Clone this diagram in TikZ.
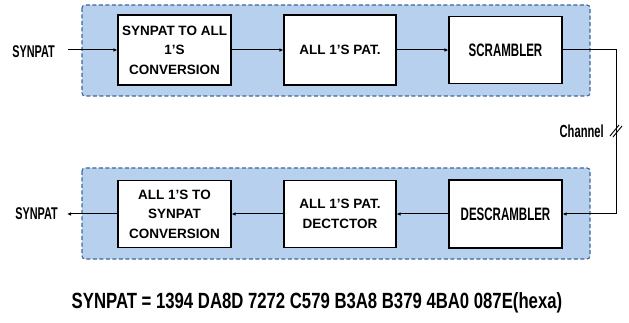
\documentclass[tikz,border=0pt]{standalone}
\usepackage{fontspec}
\setmainfont{Liberation Sans}
\newfontfamily\cond[FakeStretch=0.64]{Liberation Sans}
\newfontfamily\capfont[FakeStretch=0.76]{Liberation Sans}
\usetikzlibrary{arrows.meta}
\definecolor{panelfill}{HTML}{B7D0EE}
\definecolor{paneledge}{HTML}{3D6698}
\tikzset{
  panel/.style={draw=paneledge, fill=panelfill, line width=1.1pt, dash pattern=on 4pt off 2.5pt, rounded corners=3pt},
  blk/.style={draw=black, fill=white, line width=1.1pt, inner sep=0pt, align=center,
     font=\fontsize{13.5}{19.5}\selectfont\bfseries},
  wire/.style={line width=1pt, -{Latex[length=4pt,width=3.5pt]}},
  lbl/.style={font=\cond\fontsize{17}{19}\selectfont\bfseries, inner sep=0pt},
}
\begin{document}
\begin{tikzpicture}[x=1pt,y=-1pt]
\useasboundingbox (0,0) rectangle (629,323);
\fill[white] (0,0) rectangle (629,323);
% panels
\draw[panel] (82,5) rectangle (590,96);
\draw[panel] (82,168) rectangle (590,259);
% top row
\node[blk, minimum width=113pt, minimum height=70pt] (b1) at (174.5,50) {SYNPAT TO ALL\\1'S\\CONVERSION};
\node[blk, minimum width=112pt, minimum height=70pt] (b2) at (340,50) {ALL 1'S PAT.};
\node[blk, minimum width=113pt, minimum height=67pt, font=\cond\fontsize{18}{20}\selectfont\bfseries] (b3) at (505.5,50) {SCRAMBLER};
% bottom row
\node[blk, minimum width=113pt, minimum height=67pt] (b4) at (174.5,214) {ALL 1'S TO\\SYNPAT\\CONVERSION};
\node[blk, minimum width=112pt, minimum height=67pt] (b5) at (340,214) {ALL 1'S PAT.\\DECTCTOR};
\node[blk, minimum width=113pt, minimum height=68pt, font=\cond\fontsize{18}{20}\selectfont\bfseries] (b6) at (505.5,214) {DESCRAMBLER};
% labels
\node[lbl, anchor=east] (inS) at (55,52) {SYNPAT};
\node[lbl, anchor=east] (outS) at (58,214) {SYNPAT};
\coordinate (inA) at (68,50);
\coordinate (outA) at (67,214);
\coordinate (c1) at (616,50);
\coordinate (c2) at (616,214);
\coordinate (ch) at (616,130);
\node[font=\cond\fontsize{17.5}{19}\selectfont\bfseries, anchor=east, inner sep=0pt] (chl) at (604,131) {Channel};
% wires
\draw[wire] (inA) -- (b1.west);
\draw[wire] (b1.east) -- (b2.west);
\draw[wire] (b2.east) -- (b3.west);
\draw[wire] (b3.east) -- (c1) -- (c2) -- (b6.east);
\draw[wire] (b6.west) -- (b5.east);
\draw[wire] (b5.west) -- (b4.east);
\draw[wire] (b4.west) -- (outA);
% channel slashes
\draw[line width=0.9pt] ([shift={(-6,6)}]ch) -- ([shift={(3,-5)}]ch);
\draw[line width=0.9pt] ([shift={(-3,7)}]ch) -- ([shift={(6,-4)}]ch);
% caption
\node[font=\capfont\fontsize{22}{24}\selectfont\bfseries, inner sep=0pt] (cap) at (317,303) {SYNPAT = 1394 DA8D 7272 C579 B3A8 B379 4BA0 087E(hexa)};
\end{tikzpicture}
\end{document}
